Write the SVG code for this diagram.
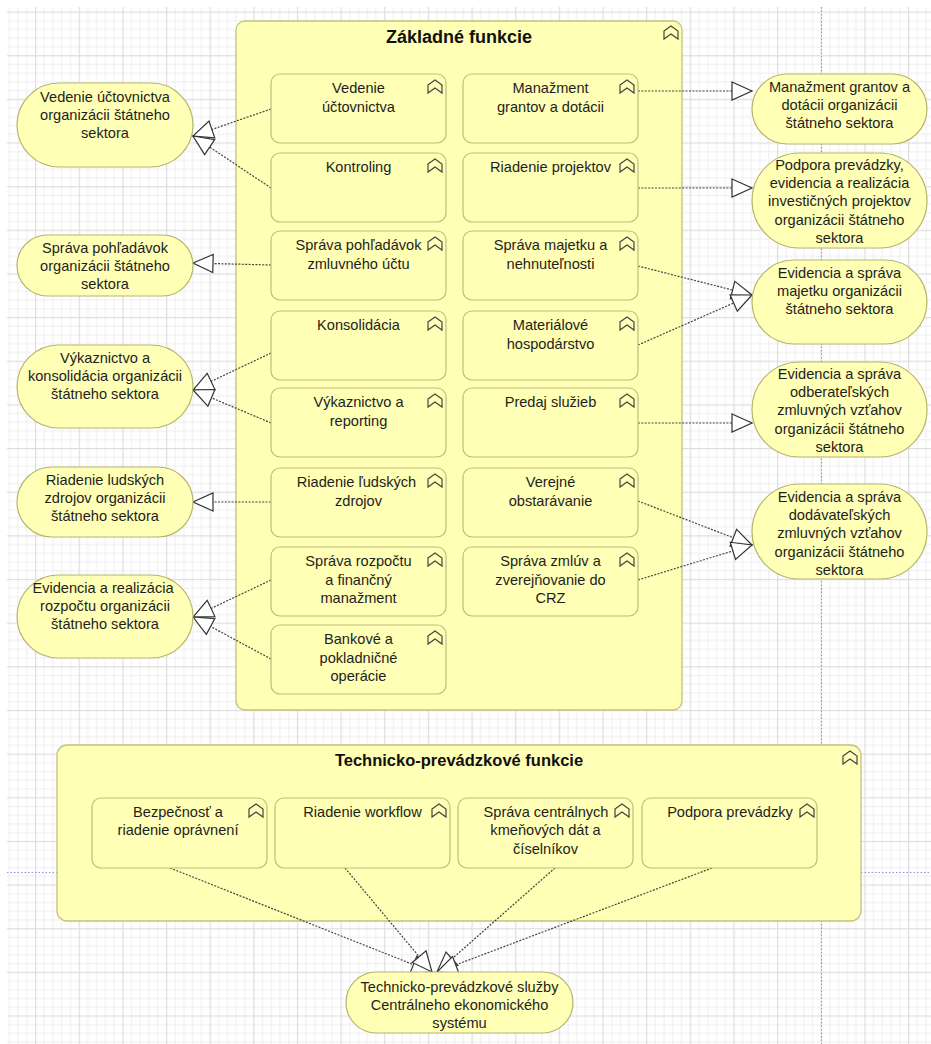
<svg xmlns="http://www.w3.org/2000/svg" xmlns:xlink="http://www.w3.org/1999/xlink" width="931" height="1044" viewBox="0 0 931 1044">
<style>
.box{fill:#ffffb5;stroke:#bdbd80;stroke-width:1.2}
.svc{fill:#ffffb5;stroke:#b5b56e;stroke-width:1.2}
.grp{fill:#ffffb5;stroke:#c2c27c;stroke-width:1.3}
.t{font-family:"Liberation Sans",Arial,sans-serif;font-size:14.6px;fill:#1e1e1e;text-anchor:middle}
.title{font-family:"Liberation Sans",Arial,sans-serif;font-weight:bold;fill:#111;text-anchor:middle}
.icon{fill:none;stroke:#444;stroke-width:1.2;stroke-linejoin:miter}
.c{fill:none;stroke:#444;stroke-width:1.2;stroke-dasharray:2 1.4;marker-end:url(#real)}
.page{fill:none;stroke:#8f8fe6;stroke-width:1;stroke-dasharray:1.5 2}
</style>
<defs>
<pattern id="grid" patternUnits="userSpaceOnUse" x="-8.65" y="-32.15" width="43.65" height="43.65">
<rect x="0" y="0" width="43.65" height="43.65" fill="#ffffff"/>
<g fill="#efefef">
<rect x="8.73" y="0" width="1" height="43.65"/>
<rect x="17.46" y="0" width="1" height="43.65"/>
<rect x="26.19" y="0" width="1" height="43.65"/>
<rect x="34.92" y="0" width="1" height="43.65"/>
<rect x="0" y="8.73" width="43.65" height="1"/>
<rect x="0" y="17.46" width="43.65" height="1"/>
<rect x="0" y="26.19" width="43.65" height="1"/>
<rect x="0" y="34.92" width="43.65" height="1"/>
</g>
<g fill="#dedede">
<rect x="0" y="0" width="1.2" height="43.65"/>
<rect x="0" y="0" width="43.65" height="1.2"/>
</g>
</pattern>
<marker id="real" markerUnits="userSpaceOnUse" viewBox="-1 -1 22 20" markerWidth="22" markerHeight="20" refX="20" refY="9" orient="auto" overflow="visible">
<path d="M0,0 L20,9 L0,18 Z" fill="#ffffff" stroke="#333" stroke-width="1.2" stroke-linejoin="miter"/>
</marker>
<path id="fi" class="icon" d="M0,5 L7,0 L14,5 L14,13 L7,8 L0,13 Z"/>
</defs>

<rect x="0" y="0" width="931" height="1044" fill="#ffffff"/>
<rect x="7" y="7" width="924" height="1037" fill="url(#grid)"/>
<line class="page" x1="821.5" y1="7" x2="821.5" y2="1044"/>
<line class="page" x1="7" y1="872.5" x2="931" y2="872.5"/>

<g id="zakladne-funkcie">
<rect class="grp" x="236" y="21" width="446" height="689" rx="9"/>
<text class="title" x="459" y="43" font-size="18">Základné funkcie</text>
<use xlink:href="#fi" x="664" y="26"/>
</g>

<g id="technicko-prevadzkove-funkcie">
<rect class="grp" x="57" y="745" width="804" height="176" rx="10"/>
<text class="title" x="459" y="766" font-size="16.5">Technicko-prevádzkové funkcie</text>
<use xlink:href="#fi" x="843" y="751"/>
</g>

<g id="connectors">
<path class="c" d="M271,109 L193,136"/>
<path class="c" d="M271,188 L193,136"/>
<path class="c" d="M271,265 L193,263"/>
<path class="c" d="M271,353 L193,390"/>
<path class="c" d="M271,423 L193,390"/>
<path class="c" d="M271,502 L193,502"/>
<path class="c" d="M271,580 L193,617"/>
<path class="c" d="M271,659 L193,617"/>
<path class="c" d="M638,91 L752,91"/>
<path class="c" d="M638,188 L752,188"/>
<path class="c" d="M638,266 L752,295"/>
<path class="c" d="M638,345 L752,295"/>
<path class="c" d="M638,423 L752,423"/>
<path class="c" d="M638,501 L752,545"/>
<path class="c" d="M638,580 L752,545"/>
<path class="c" d="M170,868 L432,972"/>
<path class="c" d="M345,868 L432,972"/>
<path class="c" d="M555,868 L437,972"/>
<path class="c" d="M712,868 L437,972"/>
</g>

<g id="f-vedenie-uctovnictva">
<rect class="box" x="271" y="74" width="175" height="69" rx="9"/>
<use xlink:href="#fi" x="428" y="80"/>
<text class="t" x="358.5" y="93"><tspan x="358.5">Vedenie</tspan><tspan x="358.5" dy="18.5">účtovnictva</tspan></text>
</g>
<g id="f-kontroling">
<rect class="box" x="271" y="153" width="175" height="69" rx="9"/>
<use xlink:href="#fi" x="428" y="159"/>
<text class="t" x="358.5" y="172">Kontroling</text>
</g>
<g id="f-sprava-pohladavok">
<rect class="box" x="271" y="231" width="175" height="69" rx="9"/>
<use xlink:href="#fi" x="428" y="237"/>
<text class="t" x="358.5" y="250"><tspan x="358.5">Správa pohľadávok</tspan><tspan x="358.5" dy="18.5">zmluvného účtu</tspan></text>
</g>
<g id="f-konsolidacia">
<rect class="box" x="271" y="311" width="175" height="69" rx="9"/>
<use xlink:href="#fi" x="428" y="317"/>
<text class="t" x="358.5" y="330">Konsolidácia</text>
</g>
<g id="f-vykaznictvo">
<rect class="box" x="271" y="388" width="175" height="69" rx="9"/>
<use xlink:href="#fi" x="428" y="394"/>
<text class="t" x="358.5" y="407"><tspan x="358.5">Výkaznictvo a</tspan><tspan x="358.5" dy="18.5">reporting</tspan></text>
</g>
<g id="f-riadenie-ludskych-zdrojov">
<rect class="box" x="271" y="468" width="175" height="69" rx="9"/>
<use xlink:href="#fi" x="428" y="474"/>
<text class="t" x="356.5" y="487"><tspan x="356.5">Riadenie ľudských</tspan><tspan x="358.5" dy="18.5">zdrojov</tspan></text>
</g>
<g id="f-sprava-rozpoctu">
<rect class="box" x="271" y="547" width="175" height="69" rx="9"/>
<use xlink:href="#fi" x="428" y="553"/>
<text class="t" x="358.5" y="566"><tspan x="358.5">Správa rozpočtu</tspan><tspan x="358.5" dy="18.5">a finančný</tspan><tspan x="358.5" dy="18.5">manažment</tspan></text>
</g>
<g id="f-bankove-operacie">
<rect class="box" x="271" y="625" width="175" height="69" rx="9"/>
<use xlink:href="#fi" x="428" y="631"/>
<text class="t" x="358.5" y="644"><tspan x="358.5">Bankové a</tspan><tspan x="358.5" dy="18.5">pokladničné</tspan><tspan x="358.5" dy="18.5">operácie</tspan></text>
</g>

<g id="f-manazment-grantov">
<rect class="box" x="463" y="74" width="175" height="69" rx="9"/>
<use xlink:href="#fi" x="620" y="80"/>
<text class="t" x="550.5" y="93"><tspan x="550.5">Manažment</tspan><tspan x="550.5" dy="18.5">grantov a dotácii</tspan></text>
</g>
<g id="f-riadenie-projektov">
<rect class="box" x="463" y="153" width="175" height="69" rx="9"/>
<use xlink:href="#fi" x="620" y="159"/>
<text class="t" x="550.5" y="172">Riadenie projektov</text>
</g>
<g id="f-sprava-majetku">
<rect class="box" x="463" y="231" width="175" height="69" rx="9"/>
<use xlink:href="#fi" x="620" y="237"/>
<text class="t" x="550.5" y="250"><tspan x="550.5">Správa majetku a</tspan><tspan x="550.5" dy="18.5">nehnuteľnosti</tspan></text>
</g>
<g id="f-materialove-hospodarstvo">
<rect class="box" x="463" y="311" width="175" height="69" rx="9"/>
<use xlink:href="#fi" x="620" y="317"/>
<text class="t" x="550.5" y="330"><tspan x="550.5">Materiálové</tspan><tspan x="550.5" dy="18.5">hospodárstvo</tspan></text>
</g>
<g id="f-predaj-sluzieb">
<rect class="box" x="463" y="388" width="175" height="69" rx="9"/>
<use xlink:href="#fi" x="620" y="394"/>
<text class="t" x="550.5" y="407">Predaj služieb</text>
</g>
<g id="f-verejne-obstaravanie">
<rect class="box" x="463" y="468" width="175" height="69" rx="9"/>
<use xlink:href="#fi" x="620" y="474"/>
<text class="t" x="550.5" y="487"><tspan x="550.5">Verejné</tspan><tspan x="550.5" dy="18.5">obstarávanie</tspan></text>
</g>
<g id="f-sprava-zmluv">
<rect class="box" x="463" y="547" width="175" height="69" rx="9"/>
<use xlink:href="#fi" x="620" y="553"/>
<text class="t" x="550.5" y="566"><tspan x="550.5">Správa zmlúv a</tspan><tspan x="550.5" dy="18.5">zverejňovanie do</tspan><tspan x="550.5" dy="18.5">CRZ</tspan></text>
</g>

<g id="s-vedenie-uctovnictva">
<rect class="svc" x="17" y="83" width="176" height="84" rx="42"/>
<text class="t" x="105" y="102"><tspan x="105">Vedenie účtovnictva</tspan><tspan x="105" dy="18">organizácii štátneho</tspan><tspan x="105" dy="18">sektora</tspan></text>
</g>
<g id="s-sprava-pohladavok">
<rect class="svc" x="17" y="235" width="176" height="61" rx="30.5"/>
<text class="t" x="105" y="253"><tspan x="105">Správa pohľadávok</tspan><tspan x="105" dy="18">organizácii štátneho</tspan><tspan x="105" dy="18">sektora</tspan></text>
</g>
<g id="s-vykaznictvo">
<rect class="svc" x="17" y="345" width="176" height="83" rx="41.5"/>
<text class="t" x="105" y="363"><tspan x="105">Výkaznictvo a</tspan><tspan x="105" dy="18">konsolidácia organizácii</tspan><tspan x="105" dy="18">štátneho sektora</tspan></text>
</g>
<g id="s-riadenie-ludskych-zdrojov">
<rect class="svc" x="17" y="467" width="176" height="70" rx="35"/>
<text class="t" x="105" y="485"><tspan x="105">Riadenie ludských</tspan><tspan x="105" dy="18">zdrojov organizácii</tspan><tspan x="105" dy="18">štátneho sektora</tspan></text>
</g>
<g id="s-evidencia-rozpoctu">
<rect class="svc" x="17" y="575" width="176" height="83" rx="41.5"/>
<text class="t" x="103" y="593"><tspan x="103">Evidencia a realizácia</tspan><tspan x="105" dy="18">rozpočtu organizácii</tspan><tspan x="105" dy="18">štátneho sektora</tspan></text>
</g>

<g id="s-manazment-grantov">
<rect class="svc" x="752" y="74" width="175" height="70" rx="35"/>
<text class="t" x="839.5" y="92"><tspan x="839.5">Manažment grantov a</tspan><tspan x="839.5" dy="18">dotácii organizácii</tspan><tspan x="839.5" dy="18">štátneho sektora</tspan></text>
</g>
<g id="s-podpora-prevadzky-projektov">
<rect class="svc" x="752" y="153" width="175" height="95" rx="47.5"/>
<text class="t" x="839.5" y="170"><tspan x="839.5">Podpora prevádzky,</tspan><tspan x="839.5" dy="18.2">evidencia a realizácia</tspan><tspan x="839.5" dy="18.2">investičných projektov</tspan><tspan x="839.5" dy="18.2">organizácii štátneho</tspan><tspan x="839.5" dy="18.2">sektora</tspan></text>
</g>
<g id="s-evidencia-majetku">
<rect class="svc" x="752" y="260" width="175" height="84" rx="42"/>
<text class="t" x="839.5" y="278"><tspan x="839.5">Evidencia a správa</tspan><tspan x="839.5" dy="18">majetku organizácii</tspan><tspan x="839.5" dy="18">štátneho sektora</tspan></text>
</g>
<g id="s-evidencia-odberatelskych">
<rect class="svc" x="752" y="362" width="175" height="95" rx="47.5"/>
<text class="t" x="839.5" y="379"><tspan x="839.5">Evidencia a správa</tspan><tspan x="839.5" dy="18.2">odberateľských</tspan><tspan x="839.5" dy="18.2">zmluvných vzťahov</tspan><tspan x="839.5" dy="18.2">organizácii štátneho</tspan><tspan x="839.5" dy="18.2">sektora</tspan></text>
</g>
<g id="s-evidencia-dodavatelskych">
<rect class="svc" x="752" y="484" width="175" height="95" rx="47.5"/>
<text class="t" x="839.5" y="502"><tspan x="839.5">Evidencia a správa</tspan><tspan x="839.5" dy="18.2">dodávateľských</tspan><tspan x="839.5" dy="18.2">zmluvných vzťahov</tspan><tspan x="839.5" dy="18.2">organizácii štátneho</tspan><tspan x="839.5" dy="18.2">sektora</tspan></text>
</g>

<g id="f-bezpecnost">
<rect class="box" x="92" y="798" width="175" height="70" rx="9"/>
<use xlink:href="#fi" x="249" y="804"/>
<text class="t" x="178" y="817"><tspan x="178">Bezpečnosť a</tspan><tspan x="178" dy="18.3">riadenie oprávnení</tspan></text>
</g>
<g id="f-riadenie-workflow">
<rect class="box" x="275" y="798" width="175" height="70" rx="9"/>
<use xlink:href="#fi" x="432" y="804"/>
<text class="t" x="362.5" y="817">Riadenie workflow</text>
</g>
<g id="f-sprava-centralnych-dat">
<rect class="box" x="458" y="798" width="175" height="70" rx="9"/>
<use xlink:href="#fi" x="615" y="804"/>
<text class="t" x="546" y="817"><tspan x="546">Správa centrálnych</tspan><tspan x="545.5" dy="18.3">kmeňových dát a</tspan><tspan x="545.5" dy="18.3">číselníkov</tspan></text>
</g>
<g id="f-podpora-prevadzky">
<rect class="box" x="642" y="798" width="175" height="70" rx="9"/>
<use xlink:href="#fi" x="800" y="804"/>
<text class="t" x="730" y="817">Podpora prevádzky</text>
</g>

<g id="s-technicko-prevadzkove-sluzby">
<rect class="svc" x="346" y="972" width="227" height="61" rx="30.5"/>
<text class="t" x="459.5" y="992"><tspan x="459.5">Technicko-prevádzkové služby</tspan><tspan x="459.5" dy="18">Centrálneho ekonomického</tspan><tspan x="459.5" dy="18">systému</tspan></text>
</g>
</svg>
